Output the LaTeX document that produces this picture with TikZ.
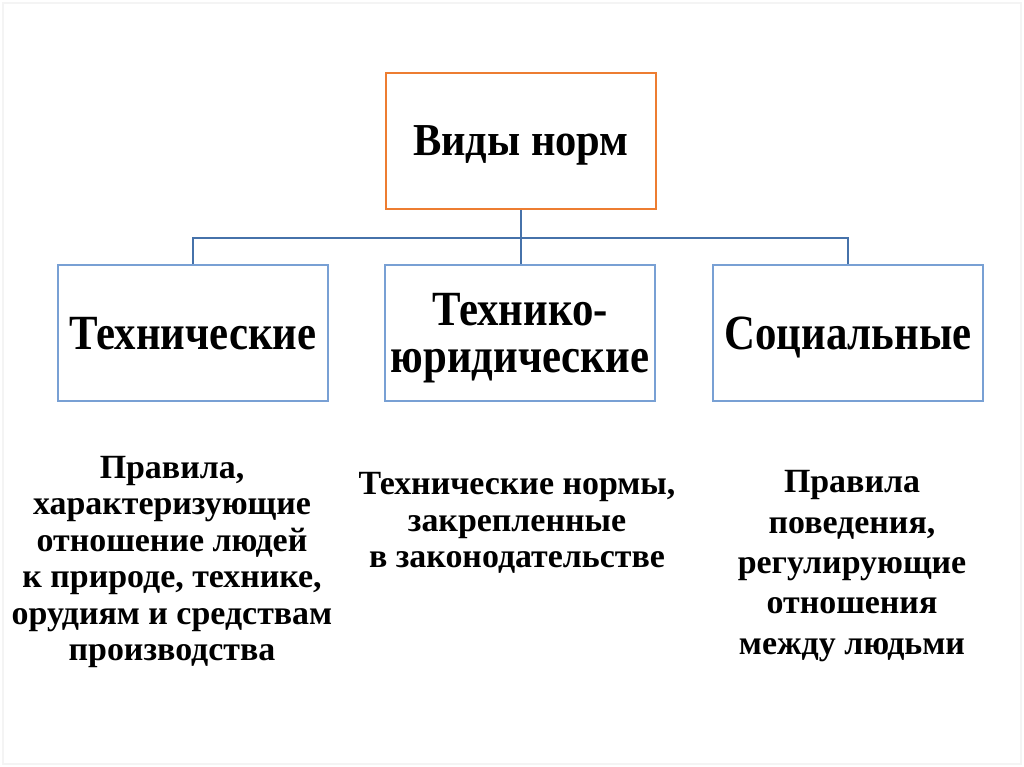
\documentclass[tikz,border=0pt]{standalone}
\usepackage{fontspec}
\setmainfont{Liberation Serif}
\newfontfamily\narrowserif[FakeStretch=0.87]{Liberation Serif}
\newfontfamily\headserif[FakeStretch=0.93]{Liberation Serif}
\usepackage{tikz}
\usetikzlibrary{positioning,calc}
\definecolor{headorange}{RGB}{237,125,49}
\definecolor{boxblue}{RGB}{120,160,212}
\definecolor{linkblue}{RGB}{70,114,170}
\definecolor{framegray}{RGB}{244,244,244}

\tikzset{
  kindbox/.style={draw=boxblue, line width=0.9pt, minimum width=270*0.02cm,
    minimum height=136*0.02cm, align=center, inner sep=0pt, text depth=0pt,
    font=\narrowserif\fontsize{28}{26.6}\selectfont\bfseries},
  notetext/.style={align=center, inner sep=0pt,
    font=\fontsize{19.3}{20.7}\selectfont\bfseries},
  link/.style={draw=linkblue, line width=0.9pt}
}

\begin{document}
\begin{tikzpicture}[x=0.02cm, y=-0.02cm]
  % slide area
  \useasboundingbox (0,0) rectangle (1024,767);
  \draw[framegray, line width=0.6pt] (3,3) rectangle (1021,764);

  \node[kindbox, draw=headorange, font=\headserif\fontsize{26}{28}\selectfont\bfseries] (kinds) at (521,141) {Виды норм};

  \node[kindbox] (tech) at (193,333) {Технические};
  \node[kindbox] (techlaw) at (520,333) {Технико-\\юридические};
  \node[kindbox] (social) at (848,333) {Социальные};

  % branches
  \coordinate (fork) at ($(kinds.south)+(0,28)$);
  \draw[link] (kinds.south) -- (fork);
  \draw[link] (tech.north) |- (fork) -| (social.north);
  \draw[link] (fork) -- (fork |- techlaw.north);

  % explanations
  \node[notetext] (technote) at (172,562) {Правила,\\характеризующие\\отношение людей\\к природе, технике,\\орудиям и средствам\\производства};
  \node[notetext] (techlawnote) at (517,523) {Технические нормы,\\закрепленные\\ в законодательстве};
  \node[notetext, font=\fontsize{19.3}{23}\selectfont\bfseries] (socialnote) at (852,566) {Правила\\поведения,\\регулирующие\\отношения\\между людьми};
\end{tikzpicture}
\end{document}
